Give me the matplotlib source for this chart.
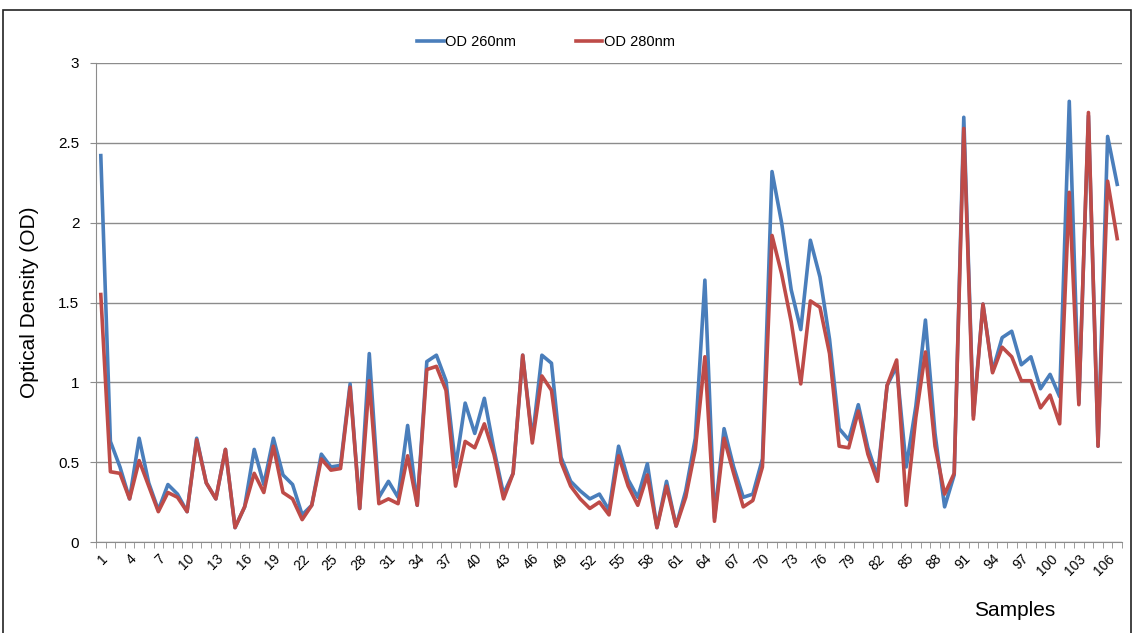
import numpy as np
import matplotlib
matplotlib.use("Agg")
import matplotlib.pyplot as plt
from matplotlib.patches import Rectangle

plt.rcParams['font.family'] = ['Liberation Sans', 'DejaVu Sans']

# Values (107 samples)
samples = np.arange(1, 108)
od260 = [2.42, 0.63, 0.47, 0.27, 0.65, 0.37, 0.20, 0.36, 0.30, 0.19,
         0.65, 0.37, 0.27, 0.58, 0.09, 0.22, 0.58, 0.36, 0.65, 0.42,
         0.36, 0.17, 0.23, 0.55, 0.47, 0.48, 0.99, 0.21, 1.18, 0.28,
         0.38, 0.28, 0.73, 0.23, 1.13, 1.17, 1.01, 0.47, 0.87, 0.68,
         0.90, 0.58, 0.30, 0.43, 1.17, 0.64, 1.17, 1.12, 0.53, 0.38,
         0.32, 0.27, 0.30, 0.20, 0.60, 0.39, 0.28, 0.49, 0.09, 0.38,
         0.10, 0.32, 0.65, 1.64, 0.15, 0.71, 0.47, 0.28, 0.30, 0.52,
         2.32, 2.00, 1.58, 1.33, 1.89, 1.66, 1.27, 0.71, 0.64, 0.86,
         0.59, 0.41, 0.98, 1.10, 0.47, 0.85, 1.39, 0.68, 0.22, 0.42,
         2.66, 0.79, 1.49, 1.07, 1.28, 1.32, 1.11, 1.16, 0.96, 1.05,
         0.91, 2.76, 0.87, 2.67, 0.60, 2.54, 2.24]
od280 = [1.55, 0.44, 0.43, 0.27, 0.51, 0.35, 0.19, 0.31, 0.28, 0.19,
         0.64, 0.37, 0.27, 0.58, 0.09, 0.22, 0.43, 0.31, 0.60, 0.31,
         0.27, 0.14, 0.23, 0.52, 0.45, 0.46, 0.97, 0.21, 1.01, 0.24,
         0.27, 0.24, 0.54, 0.23, 1.08, 1.10, 0.95, 0.35, 0.63, 0.59,
         0.74, 0.55, 0.27, 0.43, 1.17, 0.62, 1.04, 0.95, 0.50, 0.35,
         0.27, 0.21, 0.25, 0.17, 0.54, 0.35, 0.23, 0.42, 0.09, 0.35,
         0.10, 0.28, 0.58, 1.16, 0.13, 0.65, 0.43, 0.22, 0.26, 0.47,
         1.92, 1.68, 1.38, 0.99, 1.51, 1.47, 1.18, 0.60, 0.59, 0.82,
         0.55, 0.38, 0.98, 1.14, 0.23, 0.78, 1.19, 0.60, 0.30, 0.43,
         2.59, 0.77, 1.49, 1.06, 1.22, 1.16, 1.01, 1.01, 0.84, 0.92,
         0.74, 2.19, 0.86, 2.69, 0.60, 2.26, 1.90]
x_labels = [str(s) for s in samples[::3]]

blue = '#4A7EBB'
red = '#BE4B48'

fig = plt.figure(figsize=(11.34, 6.33), dpi=100)
ax = fig.add_axes([96/1134, 1 - 542/633, (1122 - 96)/1134, (542 - 63)/633])

ax.plot(samples, od260, color=blue, lw=2.6, label='OD 260nm')
ax.plot(samples, od280, color=red, lw=2.6, label='OD 280nm')

ax.set_xlim(0.5, 107.5)
ax.set_ylim(0, 3)
ax.set_yticks(np.arange(0, 3.01, 0.5))
ax.set_yticklabels(['0', '0.5', '1', '1.5', '2', '2.5', '3'], fontsize=11)
ax.grid(axis='y', color='#8c8c8c', lw=1)
ax.set_axisbelow(True)

ax.set_xticks(samples[::3])
ax.set_xticklabels(x_labels, rotation=45, fontsize=10, ha='right', va='top',
                   rotation_mode='anchor')
ax.set_xticks(np.arange(0.5, 108, 1), minor=True)
ax.tick_params(axis='x', which='major', length=0, pad=7)
ax.tick_params(axis='x', which='minor', length=4, color='#8c8c8c', direction='out')
ax.tick_params(axis='y', length=4, color='#8c8c8c', pad=8)

for side in ['top', 'right']:
    ax.spines[side].set_visible(False)
for side in ['left', 'bottom']:
    ax.spines[side].set_color('#8c8c8c')

ax.set_ylabel('Optical Density (OD)', fontsize=15, labelpad=14)
fig.text(1015/1134, 1 - 610/633, 'Samples', fontsize=15, ha='center', va='center')

fig.legend(loc='center', bbox_to_anchor=(546/1134, 1 - 42/633), ncol=2, frameon=False,
           fontsize=10.5, handlelength=1.8, handletextpad=0.1, columnspacing=4.1)

fig.patches.append(Rectangle((3/1134, -0.02), 1128/1134, 1.02 - 10/633,
                             transform=fig.transFigure, fill=False,
                             edgecolor='#222222', lw=1.2))

fig.savefig('out.png', dpi=100)
